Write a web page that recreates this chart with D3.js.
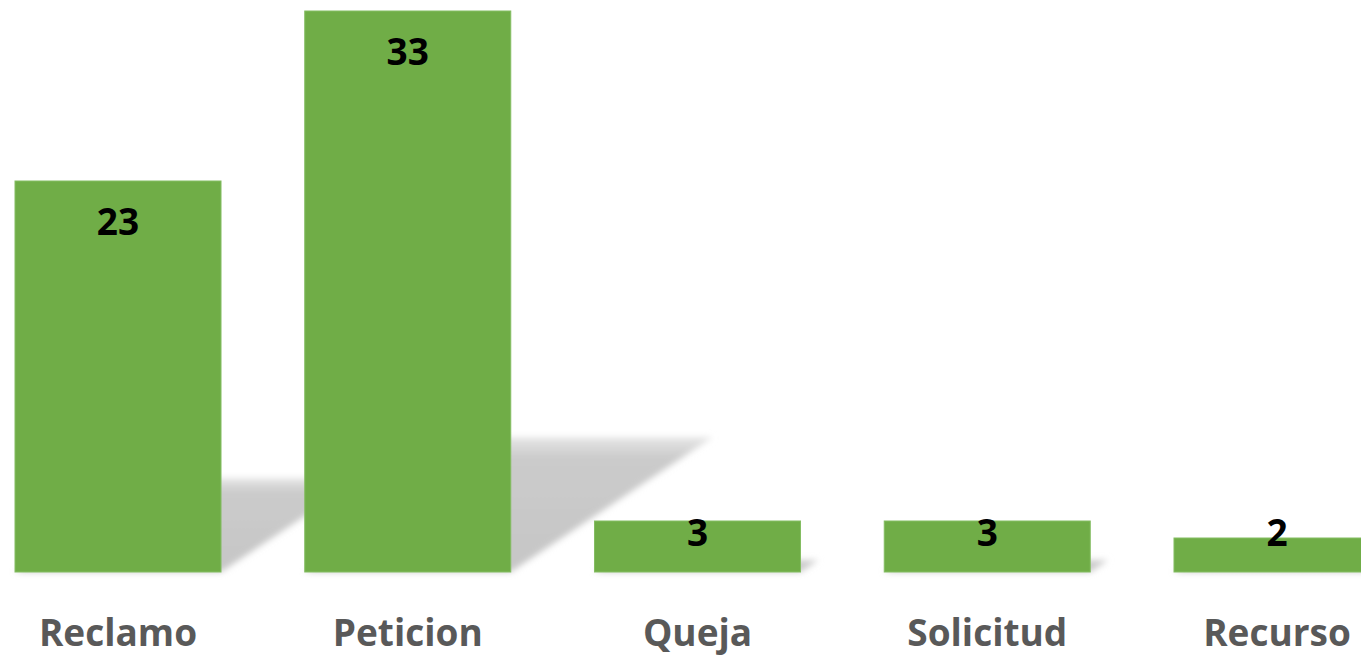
<!DOCTYPE html>
<html>
<head>
<meta charset="utf-8">
<script src="https://cdn.jsdelivr.net/npm/d3@7"></script>
<style>
  html, body { margin: 0; padding: 0; background: #fff; overflow: hidden; }
  svg { display: block; }
</style>
</head>
<body>
<script>
// data
const categories = ["Reclamo", "Peticion", "Queja", "Solicitud", "Recurso"];
const values = [23, 33, 3, 3, 2];

const w = 1361, h = 655;
const baseY = 572;

const svg = d3.select("body").append("svg")
    .attr("width", w)
    .attr("height", h);

const defs = svg.append("defs");
defs.append("filter")
    .attr("id", "blur")
    .attr("x", "-20%").attr("y", "-20%")
    .attr("width", "140%").attr("height", "140%")
  .append("feGaussianBlur")
    .attr("stdDeviation", 3);

const grad = defs.append("linearGradient")
    .attr("id", "shade")
    .attr("x1", 0).attr("y1", 1).attr("x2", 0).attr("y2", 0);
grad.append("stop").attr("offset", "0%").attr("stop-color", "#c6c6c6");
grad.append("stop").attr("offset", "85%").attr("stop-color", "#cbcbcb");
grad.append("stop").attr("offset", "100%").attr("stop-color", "#e6e6e6");

// bars run off the right edge, like the original
const x = d3.scaleBand()
    .domain(categories)
    .range([15, 1380])
    .paddingInner(0.289)
    .paddingOuter(0);

const y = d3.scaleLinear()
    .domain([0, 33])
    .range([baseY, 11]);

// perspective shadows
const shadowRatio = 0.24, skew = 1.5;
svg.append("g")
    .attr("filter", "url(#blur)")
  .selectAll("path")
  .data(values)
  .join("path")
    .attr("fill", "url(#shade)")
    .attr("d", (d, i) => {
        const x0 = x(categories[i]), x1 = x0 + x.bandwidth();
        const sh = (baseY - y(d)) * shadowRatio;
        const off = sh * skew;
        return `M${x0},${baseY}L${x1},${baseY}L${x1 + off},${baseY - sh}L${x0 + off},${baseY - sh}Z`;
    });

// bars
svg.append("g")
  .selectAll("rect")
  .data(values)
  .join("rect")
    .attr("x", (d, i) => x(categories[i]))
    .attr("y", d => y(d))
    .attr("width", x.bandwidth())
    .attr("height", d => baseY - y(d))
    .attr("fill", "#70ad47")
    .attr("stroke", "#84bd62")
    .attr("stroke-width", 1);

// value labels
svg.append("g")
  .selectAll("text")
  .data(values)
  .join("text")
    .attr("x", (d, i) => x(categories[i]) + x.bandwidth() / 2)
    .attr("y", d => Math.min(y(d) + 54, 546))
    .attr("text-anchor", "middle")
    .attr("font-family", "'Open Sans', sans-serif")
    .attr("font-weight", 700)
    .attr("font-size", 37)
    .attr("fill", "#000")
    .text(d => d);

// category axis labels
const xAxis = svg.append("g")
    .attr("transform", `translate(0,${baseY})`)
    .call(d3.axisBottom(x).tickSize(0).tickPadding(0));
xAxis.select(".domain").remove();
xAxis.selectAll("text")
    .attr("dy", null)
    .attr("y", 74)
    .attr("font-family", "'Open Sans', sans-serif")
    .attr("font-weight", 700)
    .attr("font-size", 37)
    .attr("fill", "#595959");
</script>
</body>
</html>
